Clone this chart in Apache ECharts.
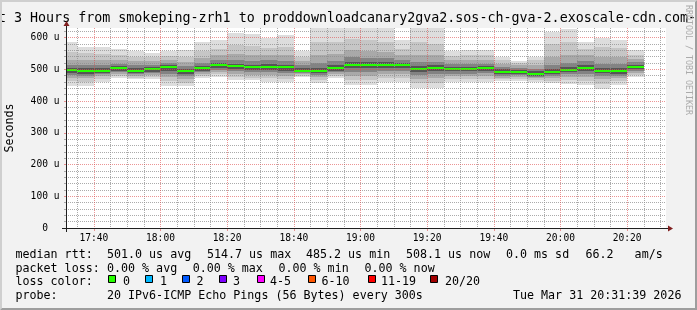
<!DOCTYPE html>
<html><head><meta charset="utf-8">
<script src="https://cdn.jsdelivr.net/npm/echarts@6/dist/echarts.min.js"></script>
<style>html,body{margin:0;padding:0;background:#f2f2f2;overflow:hidden}#c{width:697px;height:310px}</style>
</head><body><div id="c"></div>
<script>
// ---------------- data ----------------
const titleText = 'Last 3 Hours from smokeping-zrh1 to proddownloadcanary2gva2.sos-ch-gva-2.exoscale-cdn.com-ipv6';
const windowStart = '17:31:39';
const windowHours = 3;
const stepMinutes = 5;
const xTickLabels = ['17:40','18:00','18:20','18:40','19:00','19:20','19:40','20:00','20:20'];
const yTickValues = [0,100,200,300,400,500,600];
const yMax = 630;
const slotEnds = ['17:35','17:40','17:45','17:50','17:55','18:00','18:05','18:10','18:15','18:20','18:25','18:30',
  '18:35','18:40','18:45','18:50','18:55','19:00','19:05','19:10','19:15','19:20','19:25','19:30','19:35','19:40',
  '19:45','19:50','19:55','20:00','20:05','20:10','20:15','20:20','20:25'];
// median rtt per step (us)
const median  = [497,495,496,503,495,500,506,495,503,513,510,506,508,506,495,495,503,514.7,513.5,513,513,501,503,501,501,503,492,492,485.2,491,498,503,496,493,508.1];
// smoke bands (us), outermost to innermost
const outerLo = [446,446,461,472,469,469,446,446,472,476,466,466,461,460,476,456,473,451,451,461,461,440,440,460,460,460,462,464,461,456,455,451,439,451,477];
const outerHi = [585,569,569,563,556,551,556,561,585,592,613,611,598,608,558,629,629,629,629,629,593,629,629,556,561,561,540,527,540,617,626,585,600,593,561];
const band2Lo = [462,460,470,478,474,476,462,458,478,484,476,474,472,470,480,466,478,466,466,472,474,456,456,468,468,470,468,470,466,464,466,464,455,462,483];
const band2Hi = [555,550,548,545,540,538,542,540,558,565,575,572,568,570,540,585,585,595,592,585,565,585,580,542,545,545,530,520,528,580,585,565,570,568,545];
const band3Lo = [474,472,478,484,480,483,475,470,485,492,486,483,482,480,484,476,485,480,480,484,486,470,472,478,478,480,474,476,471,472,476,476,470,472,489];
const band3Hi = [530,530,528,530,525,527,530,522,535,545,548,545,545,544,525,545,548,560,558,555,545,545,545,528,530,530,518,512,515,540,545,545,538,538,532];
const band4Lo = [482,480,484,490,485,488,484,478,491,498,494,490,490,488,487,483,491,492,492,494,495,482,484,486,486,488,480,481,476,479,484,486,480,480,495];
const band4Hi = [515,515,514,518,512,515,520,510,520,530,530,527,528,526,512,520,525,538,536,535,530,522,524,516,517,518,508,505,502,515,520,525,518,516,522];
const coreLo  = [488,486,489,495,489,492,493,485,496,504,501,497,498,496,490,488,496,503,503,503,503,492,493,493,493,495,486,486,480,485,490,494,488,486,500];
const coreHi  = [505,505,504,510,503,507,512,502,510,520,518,515,516,514,503,505,512,524,522,522,520,510,512,508,508,510,500,498,493,500,507,512,505,503,515];
// legend texts
const rttStats  = ['501.0 us avg','514.7 us max','485.2 us min','508.1 us now','0.0 ms sd','66.2   am/s'];
const lossStats = ['0.00 % avg','0.00 % max','0.00 % min','0.00 % now'];
const lossLabels = ['0','1','2','3','4-5','6-10','11-19','20/20'];
const lossColors = ['#26ff00','#00b8ff','#0059ff','#7e00ff','#ff00ff','#ff5500','#ff0000','#a10000'];
const probeText = '20 IPv6-ICMP Echo Pings (56 Bytes) every 300s';
const stampText = 'Tue Mar 31 20:31:39 2026';

// ---------------- helpers ----------------
const FONT = 'DejaVu Sans Mono';
const GRID_C = 'rgba(143,143,143,0.75)';
const MGRID_C = 'rgba(222,79,79,0.6)';
const toMin = s => { const p = s.split(':').map(Number); return p[0]*60 + p[1] + (p[2]||0)/60; };
const fmt = v => { const h = Math.floor(v/60 + 1e-9), m = Math.round(v - h*60); return String(h).padStart(2,'0') + ':' + String(m).padStart(2,'0'); };
const X_MIN = toMin(windowStart), X_MAX = X_MIN + windowHours*60;
const xMajor = xTickLabels.map(toMin);
const xMinor = [];
for (let t = Math.ceil(X_MIN/stepMinutes)*stepMinutes; t <= X_MAX; t += stepMinutes) if (t % 20 !== 0) xMinor.push(t);
const yMinor = [];
for (let v = 20; v < yMax; v += 20) if (v % 100 !== 0) yMinor.push(v);
const slotMin = slotEnds.map(toMin);

function bandSeries(lo, hi, color) {
  return {
    type: 'custom', xAxisIndex: 1, yAxisIndex: 1, z: 2, silent: true,
    data: slotMin.map((e, i) => [e - stepMinutes, e, lo[i], hi[i]]),
    encode: { x: [0, 1], y: [2, 3] },
    renderItem(params, api) {
      const a = api.coord([api.value(0), api.value(3)]);
      const b = api.coord([api.value(1), api.value(2)]);
      const x0 = Math.round(a[0]), x1 = Math.round(b[0]), y0 = Math.round(a[1]), y1 = Math.round(b[1]);
      const r = echarts.graphic.clipRectByRect({ x: x0, y: y0, width: x1 - x0, height: y1 - y0 }, params.coordSys);
      if (!r) return;
      return { type: 'rect', shape: r, style: { fill: color } };
    }
  };
}
const medianSeries = {
  type: 'custom', xAxisIndex: 1, yAxisIndex: 1, z: 3, silent: true,
  data: slotMin.map((e, i) => [e - stepMinutes, e, median[i]]),
  encode: { x: [0, 1], y: 2 },
  renderItem(params, api) {
    const a = api.coord([api.value(0), api.value(2)]);
    const b = api.coord([api.value(1), api.value(2)]);
    const x0 = Math.round(a[0]), x1 = Math.round(b[0]), yc = Math.round(a[1]);
    const r = echarts.graphic.clipRectByRect({ x: x0, y: yc - 1, width: x1 - x0, height: 2 }, params.coordSys);
    if (!r) return;
    return { type: 'rect', shape: r, style: { fill: lossColors[0] } };
  }
};

const chart = echarts.init(document.getElementById('c'), null, { renderer: 'canvas' });
chart.setOption({
  animation: false,
  backgroundColor: '#f2f2f2',
  title: {
    text: titleText, left: 351, textAlign: 'center', top: 12, padding: 0,
    textStyle: { fontFamily: FONT, fontSize: 13.33, fontWeight: 'normal', color: '#000', lineHeight: 13.33 }
  },
  grid: { left: 66, top: 28, width: 600, height: 200, show: true, backgroundColor: '#fff', borderWidth: 0, containLabel: false, outerBoundsMode: 'none' },
  xAxis: [
    { type: 'value', position: 'bottom', min: X_MIN, max: X_MAX, z: 5,
      axisLine: { show: false }, axisLabel: { show: false },
      axisTick: { show: true, customValues: xMinor, length: 1, lineStyle: { color: GRID_C, width: 1 } },
      splitLine: { show: true, lineStyle: { color: GRID_C, width: 1, type: [1, 1] } } },
    { type: 'value', position: 'bottom', min: X_MIN, max: X_MAX, z: 6,
      axisLine: { show: false },
      axisTick: { show: true, customValues: xMajor, length: 3, lineStyle: { color: MGRID_C, width: 1 } },
      axisLabel: { show: true, customValues: xMajor, formatter: v => fmt(v), fontFamily: FONT, fontSize: 9.6, color: '#000', margin: 5 },
      splitLine: { show: true, lineStyle: { color: MGRID_C, width: 1, type: [1, 1] } } }
  ],
  yAxis: [
    { type: 'value', position: 'left', min: 0, max: yMax, z: 5,
      axisLine: { show: false }, axisLabel: { show: false },
      axisTick: { show: true, customValues: yMinor, length: 2, lineStyle: { color: GRID_C, width: 1 } },
      splitLine: { show: true, lineStyle: { color: GRID_C, width: 1, type: [1, 1] } } },
    { type: 'value', position: 'left', min: 0, max: yMax, z: 6,
      name: 'Seconds', nameLocation: 'middle', nameGap: 50,
      nameTextStyle: { fontFamily: FONT, fontSize: 11.67, color: '#000' },
      axisLine: { show: false },
      axisTick: { show: true, customValues: yTickValues.filter(v => v > 0), length: 2, lineStyle: { color: MGRID_C, width: 1 } },
      axisLabel: { show: true, customValues: yTickValues, formatter: v => v === 0 ? '0  ' : v + ' u', fontFamily: FONT, fontSize: 9.6, color: '#000', margin: 6.5 },
      splitLine: { show: true, lineStyle: { color: MGRID_C, width: 1, type: [1, 1] } } }
  ],
  series: [
    bandSeries(outerLo, outerHi, '#dddddd'),
    bandSeries(band2Lo, band2Hi, '#c6c6c6'),
    bandSeries(band3Lo, band3Hi, '#a9a9a9'),
    bandSeries(band4Lo, band4Hi, '#838383'),
    bandSeries(coreLo, coreHi, '#555555'),
    medianSeries
  ]
});

// ---------------- decorations: frame, axes, arrows, legend ----------------
const o = chart.convertToPixel({ gridIndex: 0 }, [X_MIN, 0]);
const tr = chart.convertToPixel({ gridIndex: 0 }, [X_MAX, yMax]);
const ox = Math.round(o[0]), oy = Math.round(o[1]), rx = Math.round(tr[0]), ty = Math.round(tr[1]);
const W = 697, H = 310;
const g = [];
g.push({ type: 'polygon', shape: { points: [[0,H],[2,H-2],[2,2],[W-2,2],[W,0],[0,0]] }, style: { fill: '#cfcfcf' }, silent: true, z: 20 });
g.push({ type: 'polygon', shape: { points: [[2,H-2],[W-2,H-2],[W-2,2],[W,0],[W,H],[0,H]] }, style: { fill: '#9e9e9e' }, silent: true, z: 20 });
g.push({ type: 'line', shape: { x1: ox - 4, y1: oy + 0.5, x2: rx + 4, y2: oy + 0.5 }, style: { stroke: '#1f1f1f', lineWidth: 1 }, silent: true, z: 20 });
g.push({ type: 'line', shape: { x1: ox + 0.5, y1: oy + 4, x2: ox + 0.5, y2: ty - 4 }, style: { stroke: '#1f1f1f', lineWidth: 1 }, silent: true, z: 20 });
g.push({ type: 'polygon', shape: { points: [[rx + 2, oy + 0.5 - 3],[rx + 2, oy + 0.5 + 3],[rx + 7, oy + 0.5]] }, style: { fill: '#801f1f' }, silent: true, z: 21 });
g.push({ type: 'polygon', shape: { points: [[ox + 0.5 - 3, ty - 2],[ox + 0.5 + 3, ty - 2],[ox + 0.5, ty - 7]] }, style: { fill: '#801f1f' }, silent: true, z: 21 });
g.push({ type: 'text', x: 688, y: 60, rotation: -Math.PI/2, silent: true, z: 20,
  style: { text: 'RRDTOOL / TOBI OETIKER', font: '8.3px "DejaVu Sans Mono"', fill: '#ababab', align: 'center', verticalAlign: 'middle' } });
const LF = '11.67px "DejaVu Sans Mono"';
const T = (x, y, s, align) => ({ type: 'text', x, y, silent: true, z: 20, style: { text: s, font: LF, fill: '#000', align: align || 'left', verticalAlign: 'middle' } });
const rowY = [254.5, 268.5, 281.5, 295.5];
g.push(T(15.5, rowY[0], 'median rtt:'));
[107, 207, 306, 406, 506, 585.5].forEach((x, i) => g.push(T(x, rowY[0], rttStats[i])));
g.push(T(15.5, rowY[1], 'packet loss:'));
[107, 192.7, 278.5, 364.5].forEach((x, i) => g.push(T(x, rowY[1], lossStats[i])));
g.push(T(15.5, rowY[2], 'loss color:'));
const boxX = [108, 145, 182, 219, 256.5, 308, 367.5, 430];
const labX = [123, 160, 196.5, 233, 270, 321.5, 381, 445];
lossLabels.forEach((s, i) => {
  g.push({ type: 'rect', shape: { x: Math.round(boxX[i]) + 0.5, y: 275.5, width: 7, height: 7 }, style: { fill: lossColors[i], stroke: '#000', lineWidth: 1 }, silent: true, z: 20 });
  g.push(T(labX[i], rowY[2], s));
});
g.push(T(15.5, rowY[3], 'probe:'));
g.push(T(107, rowY[3], probeText));
g.push(T(513, rowY[3], stampText));
chart.setOption({ graphic: g });
</script>
</body></html>
